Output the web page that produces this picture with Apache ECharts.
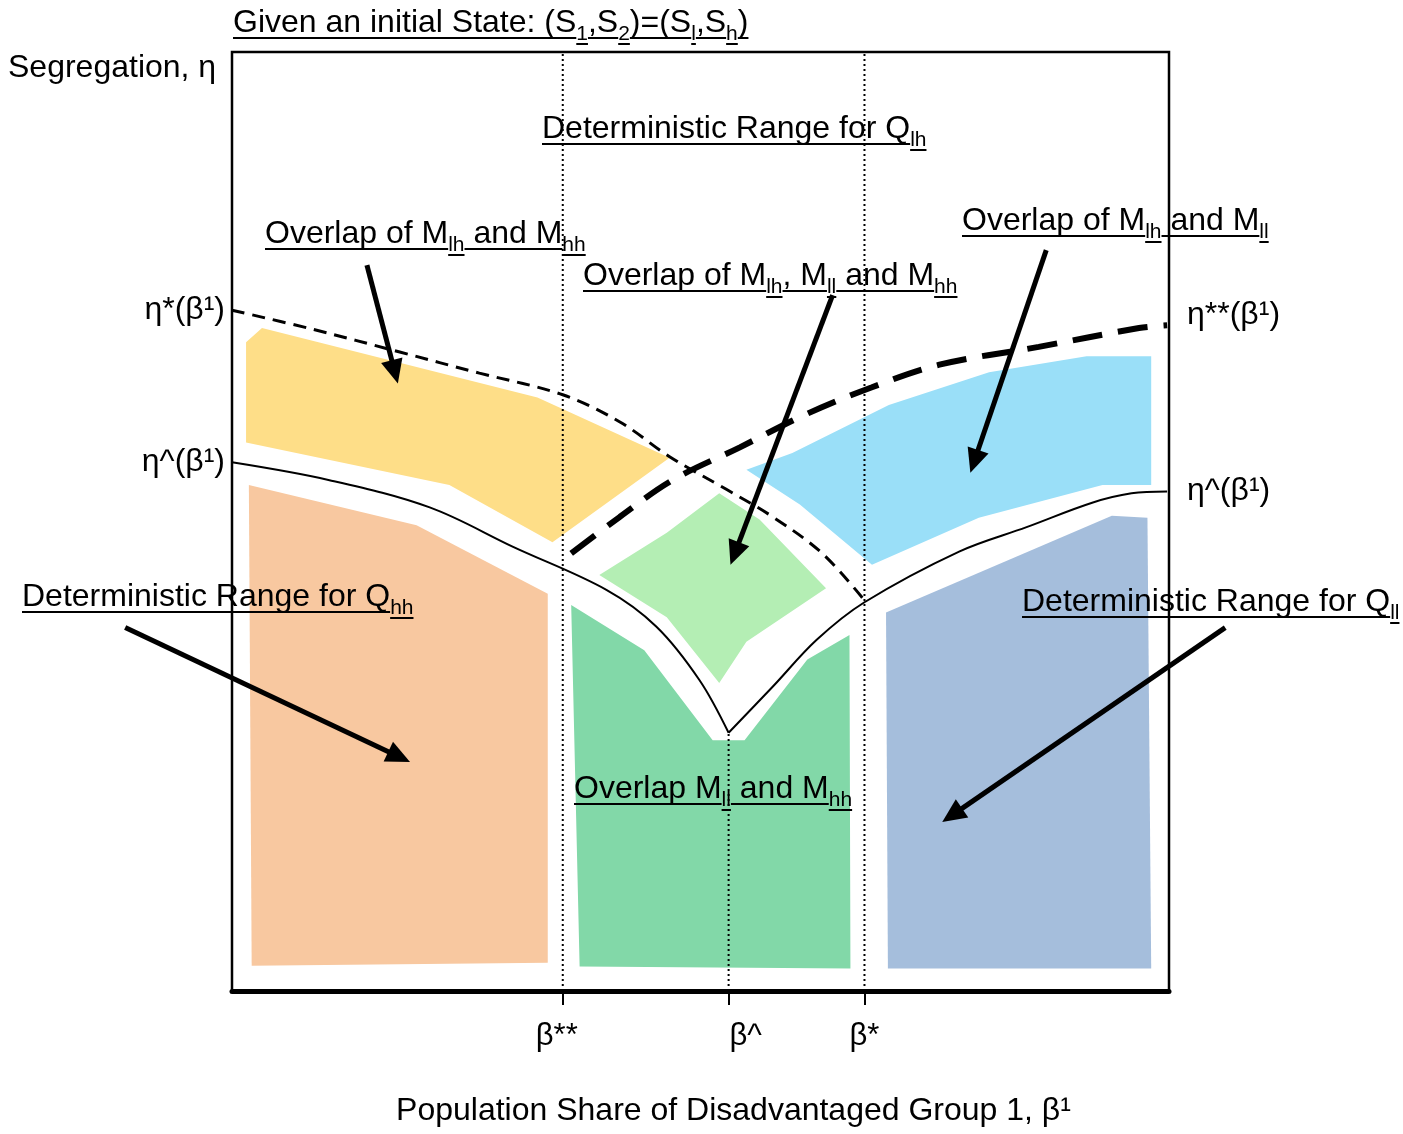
<!DOCTYPE html>
<html><head><meta charset="utf-8">
<script src="https://cdn.jsdelivr.net/npm/echarts@6/dist/echarts.min.js"></script>
<style>html,body{margin:0;padding:0;background:#fff}#c{width:1403px;height:1134px}</style>
</head><body><div id="c"></div>
<script>
// Axis scale: β across the frame 0..100, η up the frame 0..100
const betaTicks = [35.3, 53.0, 67.5];
const betaTickLabels = ['β**', 'β^', 'β*'];
const etaLeftTicks = [72.5, 56.3];
const etaLeftLabels = ['η*(β¹)', 'η^(β¹)'];
const etaRightTicks = [70.9, 53.2];
const etaRightLabels = ['η**(β¹)', 'η^(β¹)'];

// curves
const etaStar = [[0,72.5],[8.5,70.5],[17.9,68.05],[26.4,65.8],[35.3,63.5],[41.4,60.6],[46.7,56.9],[52.8,53.4],[57.7,50.5],[63.0,46.6],[67.5,41.6]];
const etaStarStar = [[36.2,46.6],[41.4,50.5],[47.0,54.4],[54.2,57.9],[61.0,61.3],[68.3,64.3],[75.5,66.7],[86.1,68.6],[96.8,70.6],[99.8,70.9]];
const etaHatLeft = [[0,56.3],[10.4,54.4],[21.1,51.5],[30.0,47.3],[40.0,42.7],[45.3,38.8],[49.9,33.1],[53.0,27.5]];
const etaHatRight = [[53.0,27.5],[57.7,32.4],[62.4,37.4],[67.5,41.4],[77.6,46.8],[84.8,49.4],[91.8,52.0],[96.0,53.0],[99.8,53.2]];
const betaStarStarLine = [[35.3,0],[35.3,100]];
const betaHatLine = [[53.0,0],[53.0,27.5]];
const betaStarLine = [[67.5,0],[67.5,100]];

// regions
const regionYellow = [[1.5,58.4],[1.5,69.1],[3.2,70.6],[32.6,63.2],[46.7,56.8],[34.2,47.8],[23.2,53.9]];
const regionOrange = [[1.8,53.9],[19.7,49.6],[33.7,42.3],[33.7,3.0],[2.1,2.7]];
const regionLightGreen = [[39.2,44.3],[46.4,48.8],[52.0,53.0],[56.3,50.2],[63.4,42.9],[54.9,37.2],[52.0,32.8],[46.4,39.8]];
const regionLightBlue = [[54.9,55.5],[59.8,57.3],[70.1,62.4],[80.8,65.9],[91.2,67.6],[98.1,67.6],[98.1,53.9],[92.9,53.9],[79.7,50.4],[68.3,45.4],[60.6,51.8]];
const regionGreen = [[36.2,41.1],[44.0,36.3],[51.3,26.7],[54.7,26.7],[61.4,35.3],[65.9,37.9],[66.0,2.4],[37.1,2.6]];
const regionSlate = [[69.8,40.3],[93.9,50.6],[97.7,50.4],[98.1,2.4],[70.0,2.4]];

// arrows: tail x, tail y, head x, head y
const arrows = [[14.4,77.3,17.7,64.7],[64.1,74.1,53.2,45.4],[86.9,78.9,78.8,55.2],[-11.4,38.7,19.0,24.4],[106.0,38.7,75.8,18.0]];

const regions = [regionYellow, regionOrange, regionLightGreen, regionLightBlue, regionGreen, regionSlate];
const regionColors = ['#FEDE88', '#F8C8A0', '#B4EEB4', '#9ADFF8', '#82D8A8', '#A5BEDC'];

const FONT = '"Liberation Sans", Arial, sans-serif';
const FS = 32, SFS = 21;

const labels = [
  {x:233, y:34, segs:[['Given an initial State: (S'],['1',1],[',S'],['2',1],[')=(S'],['l',1],[',S'],['h',1],[')']]},
  {x:542, y:140, segs:[['Deterministic Range for Q'],['lh',1]]},
  {x:265, y:245, segs:[['Overlap of M'],['lh',1],[' and M'],['hh',1]]},
  {x:583, y:287, segs:[['Overlap of M'],['lh',1],[', M'],['ll',1],[' and M'],['hh',1]]},
  {x:962, y:232, segs:[['Overlap of M'],['lh',1],[' and M'],['ll',1]]},
  {x:22, y:608, segs:[['Deterministic Range for Q'],['hh',1]]},
  {x:1022, y:613, segs:[['Deterministic Range for Q'],['ll',1]]},
  {x:574, y:800, segs:[['Overlap M'],['ll',1],[' and M'],['hh',1]]}
];

const mctx = document.createElement('canvas').getContext('2d');
function measure(t, fs){ mctx.font = fs + 'px ' + FONT; return mctx.measureText(t).width; }

const graphics = [];
labels.forEach(l => {
  let cx = l.x;
  l.segs.forEach(s => {
    const sub = !!s[1];
    const fs = sub ? SFS : FS;
    const base = sub ? l.y + 7 : l.y;
    const w = measure(s[0], fs);
    graphics.push({type:'text', z:100, style:{text:s[0], x:cx, y:base - 0.34*fs, fill:'#000', font: fs + 'px ' + FONT, align:'left', verticalAlign:'middle'}});
    graphics.push({type:'rect', z:100, shape:{x:cx, y:base + (sub?2:3), width:w, height:2}, style:{fill:'#000'}});
    cx += w;
  });
});
graphics.push({type:'text', z:100, style:{text:'Segregation, η', x:8, y:68, fill:'#000', font: FS + 'px ' + FONT, align:'left', verticalAlign:'middle'}});

function pickLabel(vals, labs, v){ const i = vals.findIndex(a => Math.abs(a - v) < 1e-6); return i < 0 ? '' : labs[i]; }

const chart = echarts.init(document.getElementById('c'), null, {renderer:'canvas'});
const lineBase = {type:'line', symbol:'none', silent:true, animation:false, z:3};
const tickRich = {fontSize:31, fontFamily:FONT, color:'#000'};
chart.setOption({
  animation:false,
  grid:{left:232, top:52, width:937, height:939, outerBoundsMode:'none', containLabel:false, show:true, borderColor:'#000', borderWidth:2.5, backgroundColor:'transparent'},
  xAxis:{type:'value', min:0, max:100,
    axisLine:{show:true, onZero:false, lineStyle:{color:'#000', width:5}},
    axisTick:{show:true, customValues:betaTicks, length:14, lineStyle:{color:'#000', width:2}},
    axisLabel:{show:true, customValues:betaTicks, margin:30, color:'#000', fontSize:31, fontFamily:FONT,
      formatter:v => { const t = pickLabel(betaTicks, betaTickLabels, v); const i = betaTickLabels.indexOf(t); return '{' + ['a','b','c'][i] + '|' + t + '}'; },
      rich:{a:Object.assign({padding:[0,12,0,0]}, tickRich), b:Object.assign({padding:[0,0,0,34]}, tickRich), c:Object.assign({}, tickRich)}},
    splitLine:{show:false},
    name:'Population Share of Disadvantaged Group 1, β¹', nameLocation:'middle', nameGap:104,
    nameTextStyle:{fontSize:32, color:'#000', fontFamily:FONT, padding:[0,0,0,66]}
  },
  yAxis:[
    {type:'value', min:0, max:100, position:'left', axisLine:{show:false}, axisTick:{show:false}, splitLine:{show:false},
      axisLabel:{customValues:etaLeftTicks, margin:7, color:'#000', fontSize:32, fontFamily:FONT, formatter:v => pickLabel(etaLeftTicks, etaLeftLabels, v)}},
    {type:'value', min:0, max:100, position:'right', axisLine:{show:false}, axisTick:{show:false}, splitLine:{show:false},
      axisLabel:{customValues:etaRightTicks, margin:18, color:'#000', fontSize:32, fontFamily:FONT,
        formatter:v => { const t = pickLabel(etaRightTicks, etaRightLabels, v); return t.indexOf('**') >= 0 ? '{u|' + t + '}' : '{n|' + t + '}'; },
        rich:{u:{fontSize:32, fontFamily:FONT, color:'#000', padding:[0,0,20,0]}, n:{fontSize:32, fontFamily:FONT, color:'#000'}}}}
  ],
  series:[
    {type:'custom', silent:true, z:1, clip:false, data:regions.map((r,i)=>[i]),
      renderItem:(params, api) => {
        const i = api.value(0);
        return {type:'polygon', shape:{points:regions[i].map(p => api.coord(p))}, style:{fill:regionColors[i]}};
      }},
    Object.assign({}, lineBase, {data:betaStarStarLine, lineStyle:{color:'#000', width:2, type:[2,3]}}),
    Object.assign({}, lineBase, {data:betaHatLine, lineStyle:{color:'#000', width:2, type:[2,3]}}),
    Object.assign({}, lineBase, {data:betaStarLine, lineStyle:{color:'#000', width:2, type:[2,3]}}),
    Object.assign({}, lineBase, {data:etaStar, smooth:0.35, lineStyle:{color:'#000', width:3, type:[13,8]}}),
    Object.assign({}, lineBase, {data:etaStarStar, smooth:0.35, lineStyle:{color:'#000', width:6, type:[30,16]}}),
    Object.assign({}, lineBase, {data:etaHatLeft, smooth:0.35, lineStyle:{color:'#000', width:2}}),
    Object.assign({}, lineBase, {data:etaHatRight, smooth:0.35, lineStyle:{color:'#000', width:2}}),
    {type:'custom', silent:true, z:5, clip:false, data:arrows,
      renderItem:(params, api) => {
        const p0 = api.coord([api.value(0), api.value(1)]);
        const p1 = api.coord([api.value(2), api.value(3)]);
        const dx = p1[0]-p0[0], dy = p1[1]-p0[1], L = Math.hypot(dx, dy), ux = dx/L, uy = dy/L;
        const hl = 24, hw = 11;
        const bx = p1[0]-ux*hl, by = p1[1]-uy*hl;
        return {type:'group', children:[
          {type:'line', shape:{x1:p0[0], y1:p0[1], x2:bx+ux*3, y2:by+uy*3}, style:{stroke:'#000', lineWidth:5}},
          {type:'polygon', shape:{points:[[p1[0],p1[1]],[bx-uy*hw, by+ux*hw],[bx+uy*hw, by-ux*hw]]}, style:{fill:'#000'}}
        ]};
      }}
  ],
  graphic:{elements:graphics}
});
</script></body></html>
